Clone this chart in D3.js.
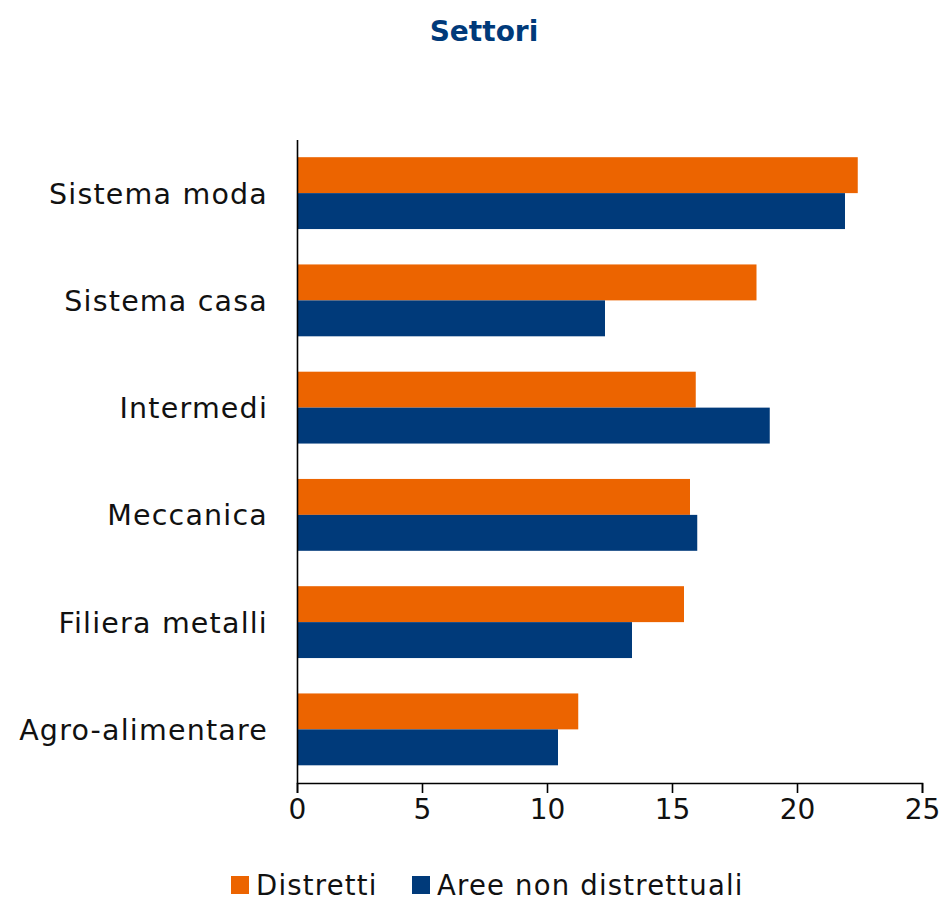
<!DOCTYPE html>
<html><head><meta charset="utf-8">
<script src="https://cdn.jsdelivr.net/npm/d3@7"></script>
<style>body{margin:0;background:#fff}svg{display:block}text{font-family:"DejaVu Sans",sans-serif}</style>
</head><body>
<svg id="c" width="946" height="900"></svg>
<script>
const categories = ["Sistema moda","Sistema casa","Intermedi","Meccanica","Filiera metalli","Agro-alimentare"];
const seriesNames = ["Distretti","Aree non distrettuali"];
const distretti = [22.43, 18.38, 15.95, 15.72, 15.48, 11.25];
const areeNonDistrettuali = [21.92, 12.32, 18.91, 16.01, 13.40, 10.44];
const xTicks = [0,5,10,15,20,25];
const colors = ["#EC6400","#003A7A"];

const svg = d3.select("#c");
const m = {left:297, right:922, top:139.5, bottom:783};
const x = d3.scaleLinear().domain([0,25]).range([m.left,m.right]);
const y = d3.scaleBand().domain(categories).range([m.top,m.bottom]).paddingInner(0.33).paddingOuter(0.165);
const ys = d3.scaleBand().domain(seriesNames).range([0,y.bandwidth()]);

svg.append("text").attr("x",484).attr("y",41).attr("text-anchor","middle")
  .attr("font-size",28).attr("font-weight","bold").attr("fill","#003A7A").text("Settori");

const data = [distretti, areeNonDistrettuali];
seriesNames.forEach((s,si)=>{
  svg.append("g").selectAll("rect").data(categories).join("rect")
    .attr("x",x(0)).attr("y",(c)=>y(c)+ys(s))
    .attr("width",(c,i)=>x(data[si][i])-x(0)).attr("height",ys.bandwidth())
    .attr("fill",colors[si]);
});

// y axis
const ya = svg.append("g").attr("transform",`translate(${m.left},0)`)
  .call(d3.axisLeft(y).tickSize(0).tickPadding(29));
ya.select(".domain").attr("stroke","#000").attr("stroke-width",1.6);
ya.selectAll("text").attr("font-size",28.5).attr("fill","#111").attr("dy","0.37em")
  .style("font-family","DejaVu Sans").style("letter-spacing","1.2px");

// x axis
const xa = svg.append("g").attr("transform",`translate(0,${m.bottom})`)
  .call(d3.axisBottom(x).tickValues(xTicks).tickSize(10).tickPadding(6).tickFormat(d3.format("d")));
xa.select(".domain").attr("stroke","#000").attr("stroke-width",1.6);
xa.selectAll(".tick line").attr("stroke","#000").attr("stroke-width",1.6);
xa.selectAll("text").attr("font-size",28).attr("fill","#111").style("font-family","DejaVu Sans");

// legend
const leg = svg.append("g");
const legX = [231, 412];
seriesNames.forEach((s,i)=>{
  leg.append("rect").attr("x",legX[i]).attr("y",876).attr("width",18).attr("height",18).attr("fill",colors[i]);
  leg.append("text").attr("x",legX[i]+25).attr("y",895).attr("font-size",27.5).attr("fill","#111")
    .style("letter-spacing","1.2px").text(s);
});
</script>
</body></html>
